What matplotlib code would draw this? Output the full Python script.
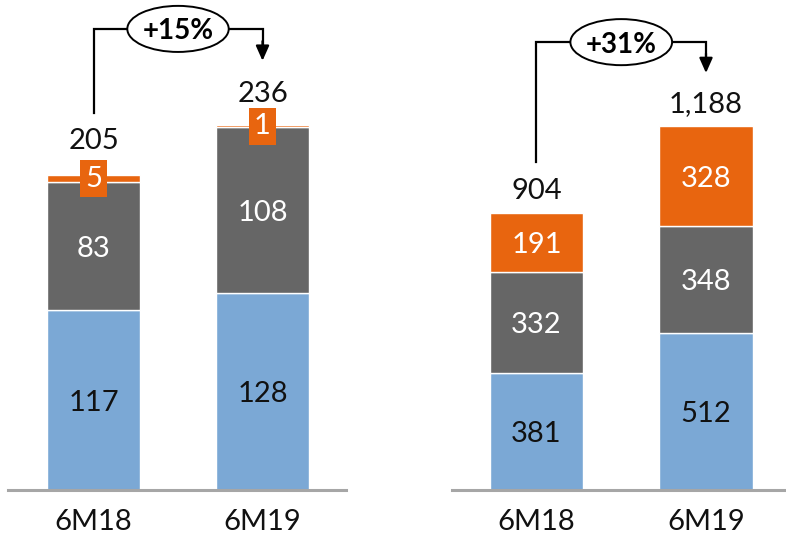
import matplotlib
matplotlib.use("Agg")
import matplotlib.pyplot as plt
from matplotlib.patches import Ellipse
from matplotlib.transforms import blended_transform_factory

plt.rcParams['font.family'] = ['Lato', 'DejaVu Sans']

periods = ["6M18", "6M19"]

# left panel
left_base = [117, 128]
left_mid = [83, 108]
left_top = [5, 1]
left_totals = [205, 236]
left_growth = "+15%"

# right panel
right_base = [381, 512]
right_mid = [332, 348]
right_top = [191, 328]
right_totals = [904, 1188]
right_growth = "+31%"

BLUE = "#7BA8D5"
GREY = "#666666"
ORANGE = "#E8650F"

W, H = 786, 535
fig = plt.figure(figsize=(W / 100, H / 100), dpi=100)

ax_l = fig.add_axes([8 / W, 45 / H, 338 / W, 490 / H])
ax_r = fig.add_axes([452 / W, 45 / H, 334 / W, 490 / H])


def draw_panel(ax, base, mid, top, totals, growth, xlim, ylim_top,
               total_gap, boxed_top, bracket_y, start_y, tip_y):
    x = list(range(len(periods)))
    width = 0.55
    ax.bar(x, base, width, color=BLUE, edgecolor="white", linewidth=1)
    ax.bar(x, mid, width, bottom=base, color=GREY, edgecolor="white", linewidth=1)
    b2 = [a + b for a, b in zip(base, mid)]
    ax.bar(x, top, width, bottom=b2, color=ORANGE, edgecolor="white", linewidth=1)

    ax.set_xlim(*xlim)
    ax.set_ylim(0, ylim_top)

    fs = 21
    va = "center_baseline"
    for i in x:
        ax.text(i, base[i] / 2, f"{base[i]:,}", ha="center", va=va,
                fontsize=fs, color="#111111")
        ax.text(i, base[i] + mid[i] / 2, f"{mid[i]:,}", ha="center", va=va,
                fontsize=fs, color="white")
        yc = b2[i] + top[i] / 2
        if boxed_top:
            ax.text(i, yc, f"{top[i]:,}", ha="center", va="center", fontsize=fs,
                    color="white",
                    bbox=dict(boxstyle="square,pad=0.18", fc=ORANGE, ec="none"))
        else:
            ax.text(i, yc, f"{top[i]:,}", ha="center", va=va, fontsize=fs,
                    color="white")
        ax.annotate(f"{totals[i]:,}", (i, totals[i]), xytext=(0, total_gap),
                    textcoords="offset pixels", ha="center", va=va,
                    fontsize=fs, color="#111111")

    # growth bracket: line from the first bar over to an arrow on the second
    tr = blended_transform_factory(ax.transData, ax.transAxes)
    ax.plot([0, 0, 1, 1], [start_y, bracket_y, bracket_y, tip_y + 0.03],
            color="black", lw=1.6, transform=tr, solid_joinstyle="miter",
            clip_on=False)
    ax.annotate("", xy=(1, tip_y), xycoords=tr, xytext=(1, tip_y + 0.04),
                textcoords=tr,
                arrowprops=dict(arrowstyle="-|>,head_length=0.9,head_width=0.4",
                                color="black", lw=1.6, shrinkA=0, shrinkB=0))
    ax.add_patch(Ellipse((0.5, bracket_y), 0.60, 0.094, transform=tr,
                         fc="white", ec="black", lw=1.4, clip_on=False, zorder=4))
    ax.text(0.5, bracket_y, growth, transform=tr, ha="center", va="center_baseline",
            fontsize=20, fontweight="bold", color="black", zorder=5)

    ax.set_xticks(x)
    ax.set_xticklabels(periods, fontsize=21, color="#111111")
    ax.tick_params(axis="x", length=0, pad=14)
    ax.set_yticks([])
    for s in ("top", "left", "right"):
        ax.spines[s].set_visible(False)
    ax.spines["bottom"].set_color("#A6A6A6")
    ax.spines["bottom"].set_linewidth(2.2)
    ax.patch.set_alpha(0)


draw_panel(ax_l, left_base, left_mid, left_top, left_totals, left_growth,
           xlim=(-0.506, 1.494), ylim_top=318.6, total_gap=36, boxed_top=True,
           bracket_y=0.941, start_y=0.769, tip_y=0.876)
draw_panel(ax_r, right_base, right_mid, right_top, right_totals, right_growth,
           xlim=(-0.4985, 1.472), ylim_top=1599, total_gap=24, boxed_top=False,
           bracket_y=0.914, start_y=0.669, tip_y=0.851)

fig.savefig("out.png", dpi=100)
